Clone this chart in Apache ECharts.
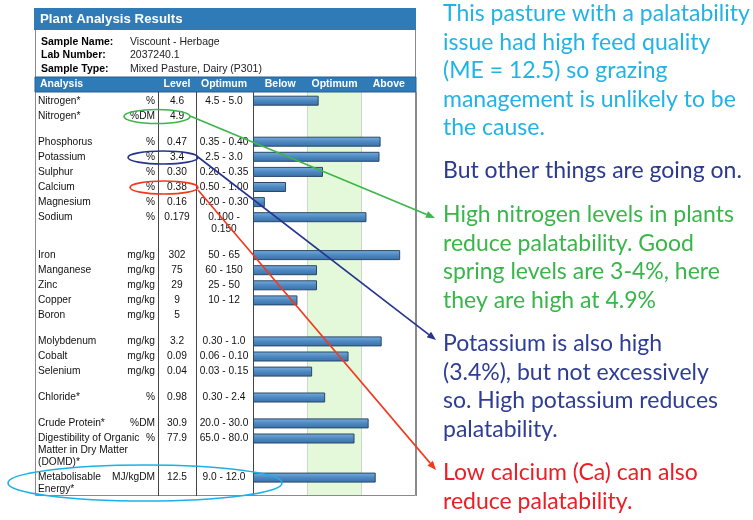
<!DOCTYPE html>
<html lang="en">
<head>
<meta charset="UTF-8">
<title>Plant Analysis Results</title>
<style>
  html, body { margin: 0; padding: 0; background: #fff; }
  #chart1 { width: 753px; height: 520px; }
</style>
</head>
<body>
<div id="chart1"></div>
<script src="https://cdn.jsdelivr.net/npm/echarts@6/dist/echarts.min.js"></script>
<script type="text/javascript">
// table rows
var analytes = ['Nitrogen*', 'Nitrogen*', 'Phosphorus', 'Potassium', 'Sulphur', 'Calcium', 'Magnesium', 'Sodium',
    'Iron', 'Manganese', 'Zinc', 'Copper', 'Boron', 'Molybdenum', 'Cobalt', 'Selenium', 'Chloride*',
    'Crude Protein*', 'Digestibility of Organic\nMatter in Dry Matter\n(DOMD)*', 'Metabolisable\nEnergy*'];
var units = ['%', '%DM', '%', '%', '%', '%', '%', '%', 'mg/kg', 'mg/kg', 'mg/kg', 'mg/kg', 'mg/kg',
    'mg/kg', 'mg/kg', 'mg/kg', '%', '%DM', '%', 'MJ/kgDM'];
var levels = ['4.6', '4.9', '0.47', '3.4', '0.30', '0.38', '0.16', '0.179', '302', '75', '29', '9', '5',
    '3.2', '0.09', '0.04', '0.98', '30.9', '77.9', '12.5'];
var optimums = ['4.5 - 5.0', '', '0.35 - 0.40', '2.5 - 3.0', '0.20 - 0.35', '0.50 - 1.00', '0.20 - 0.30',
    '0.100 -\n0.150', '50 - 65', '60 - 150', '25 - 50', '10 - 12', '', '0.30 - 1.0', '0.06 - 0.10',
    '0.03 - 0.15', '0.30 - 2.4', '20.0 - 30.0', '65.0 - 80.0', '9.0 - 12.0'];
// bar length: 0-1 below, 1-2 optimum, 2-3 above
var barScores = [1.19, null, 2.33, 2.31, 1.27, 0.59, 0.20, 2.07, 2.69, 1.16, 1.16, 0.80, null,
    2.35, 1.74, 1.07, 1.31, 2.11, 1.85, 2.24];
var groups = [0, 0, 1, 1, 1, 1, 1, 1, 2, 2, 2, 2, 2, 3, 3, 3, 4, 5, 5, 5];
var bandNames = ['Below', 'Optimum', 'Above'];

var sampleInfo = [['Sample Name:', 'Viscount - Herbage'], ['Lab Number:', '2037240.1'],
    ['Sample Type:', 'Mixed Pasture, Dairy (P301)']];

var noteCyan = 'This pasture with a palatability\nissue had high feed quality\n(ME = 12.5) so grazing\nmanagement is unlikely to be\nthe cause.';
var noteNavy = 'But other things are going on.';
var noteGreen = 'High nitrogen levels in plants\nreduce palatability. Good\nspring levels are 3-4%, here\nthey are high at 4.9%';
var noteBlue = 'Potassium is also high\n(3.4%), but not excessively\nso. High potassium reduces\npalatability.';
var noteRed = 'Low calcium (Ca) can also\nreduce palatability.';

// row offsets from the number of text lines and the group breaks
function lineCount(i) {
    return Math.max(analytes[i].split('\n').length, optimums[i].split('\n').length);
}
var rowPos = [];
var acc = 0;
for (var i = 0; i < analytes.length; i++) {
    if (i > 0) {
        acc += 15.1 + 12 * (lineCount(i - 1) - 1);
        if (groups[i] !== groups[i - 1]) acc += 10.8;
    }
    rowPos.push(acc);
}
var rows = analytes.map(function (n, i) {
    return [barScores[i] == null ? 0 : barScores[i], rowPos[i], i];
});

var tFont = '"Liberation Sans", Arial, sans-serif';
var nFont = 'Lato, "Open Sans", sans-serif';
var blue = '#2f7bb8';

var myChart1 = echarts.init(document.getElementById('chart1'));

function arrow(x1, y1, x2, y2, color) {
    var a = Math.atan2(y2 - y1, x2 - x1), L = 9, W = 3.6;
    var bx = x2 - L * Math.cos(a), by = y2 - L * Math.sin(a);
    return [
        {type: 'line', shape: {x1: x1, y1: y1, x2: bx, y2: by}, style: {stroke: color, lineWidth: 1.6}, z: 20},
        {type: 'polygon', shape: {points: [[x2, y2], [bx + W * Math.sin(a), by - W * Math.cos(a)],
            [bx - W * Math.sin(a), by + W * Math.cos(a)]]}, style: {fill: color}, z: 20}
    ];
}

var graphics = [
    {type: 'rect', shape: {x: 35.5, y: 29.5, width: 380, height: 466}, style: {fill: 'none', stroke: '#8a8a8a', lineWidth: 1}, z: 1},
    {type: 'rect', shape: {x: 34, y: 8, width: 382, height: 22}, style: {fill: blue}, z: 2},
    {type: 'text', x: 40, y: 19, style: {text: 'Plant Analysis Results', fill: '#fff', font: 'bold 13.3px ' + tFont, textVerticalAlign: 'middle'}, z: 3},
    {type: 'rect', shape: {x: 35, y: 77, width: 381, height: 15}, style: {fill: blue, stroke: '#2a5f8f', lineWidth: 1}, z: 2},
    {type: 'text', x: 40, y: 84.5, style: {text: 'Analysis', fill: '#fff', font: 'bold 10.5px ' + tFont, textVerticalAlign: 'middle'}, z: 3},
    {type: 'text', x: 177, y: 84.5, style: {text: 'Level', fill: '#fff', font: 'bold 10.5px ' + tFont, textAlign: 'center', textVerticalAlign: 'middle'}, z: 3},
    {type: 'text', x: 224, y: 84.5, style: {text: 'Optimum', fill: '#fff', font: 'bold 10.5px ' + tFont, textAlign: 'center', textVerticalAlign: 'middle'}, z: 3},
    {type: 'line', shape: {x1: 158.5, y1: 92, x2: 158.5, y2: 496}, style: {stroke: '#444', lineWidth: 1}, z: 3},
    {type: 'line', shape: {x1: 196.5, y1: 92, x2: 196.5, y2: 496}, style: {stroke: '#444', lineWidth: 1}, z: 3},
    {type: 'text', x: 443, y: 14 - 14.2, style: {text: noteCyan, fill: '#22b3e6', font: '23px ' + nFont, lineHeight: 28.4}, z: 10},
    {type: 'text', x: 443, y: 171 - 14.2, style: {text: noteNavy, fill: '#2b3990', font: '23px ' + nFont, lineHeight: 28.4}, z: 10},
    {type: 'text', x: 443, y: 215 - 14.2, style: {text: noteGreen, fill: '#39b54a', font: '23px ' + nFont, lineHeight: 28.4}, z: 10},
    {type: 'text', x: 443, y: 344 - 14.2, style: {text: noteBlue, fill: '#2e3d96', font: '23px ' + nFont, lineHeight: 28.4}, z: 10},
    {type: 'text', x: 443, y: 473 - 14.2, style: {text: noteRed, fill: '#ee1c24', font: '23px ' + nFont, lineHeight: 28.4}, z: 10},
    {type: 'ellipse', shape: {cx: 157, cy: 116.5, rx: 33, ry: 7}, style: {fill: 'none', stroke: '#3cb54a', lineWidth: 1.6}, z: 20},
    {type: 'ellipse', shape: {cx: 163, cy: 157.5, rx: 35, ry: 6.5}, style: {fill: 'none', stroke: '#25358f', lineWidth: 1.6}, z: 20},
    {type: 'ellipse', shape: {cx: 164, cy: 187.5, rx: 34, ry: 6.5}, style: {fill: 'none', stroke: '#f2391e', lineWidth: 1.6}, z: 20},
    {type: 'ellipse', shape: {cx: 145, cy: 483, rx: 137, ry: 18}, style: {fill: 'none', stroke: '#1cb0e8', lineWidth: 1.6}, z: 20}
];
sampleInfo.forEach(function (s, k) {
    graphics.push({type: 'text', x: 41, y: 42 + k * 13.5, style: {text: s[0], fill: '#000', font: 'bold 10.5px ' + tFont, textVerticalAlign: 'middle'}, z: 3});
    graphics.push({type: 'text', x: 130, y: 42 + k * 13.5, style: {text: s[1], fill: '#222', font: '10.5px ' + tFont, textVerticalAlign: 'middle'}, z: 3});
});
graphics = graphics.concat(arrow(190, 116, 435, 218, '#3cb54a'));
graphics = graphics.concat(arrow(198, 157, 436, 340, '#25358f'));
graphics = graphics.concat(arrow(198, 190, 436, 470, '#f2391e'));

myChart1.setOption({
    animation: false,
    backgroundColor: '#fff',
    grid: {left: 253, right: 337, top: 92, bottom: 24},
    xAxis: {
        type: 'value', min: 0, max: 3, interval: 1,
        position: 'top',
        axisLine: {show: false}, axisTick: {show: false},
        axisLabel: {show: false},
        splitLine: {show: true, lineStyle: {color: ['#444', '#cfd6cc', '#cfd6cc', '#8a8a8a'], width: 1}},
        splitArea: {show: true, areaStyle: {color: ['rgba(0,0,0,0)', '#e4f9da', 'rgba(0,0,0,0)']}}
    },
    yAxis: {
        type: 'value', inverse: true, min: -8.7, max: 395.3,
        show: false
    },
    graphic: graphics,
    series: [
        {
            type: 'custom',
            name: 'header',
            data: [[0.5, 0], [1.5, 1], [2.5, 2]],
            clip: false,
            renderItem: function (params, api) {
                var p = api.coord([api.value(0), 0]);
                return {type: 'text', x: p[0], y: 84.5, z2: 5,
                    style: {text: bandNames[api.value(1)], fill: '#fff', font: 'bold 10.5px ' + tFont, align: 'center', verticalAlign: 'middle'}};
            }
        },
        {
            type: 'custom',
            name: 'Plant analysis',
            data: rows,
            clip: false,
            renderItem: function (params, api) {
                var i = api.value(2);
                var p0 = api.coord([0, api.value(1)]);
                var p1 = api.coord([api.value(0), api.value(1)]);
                var yc = p0[1];
                var st = {fill: '#111', font: '10.2px ' + tFont, lineHeight: 12, verticalAlign: 'top'};
                var kids = [
                    {type: 'text', x: 38, y: yc - 6, style: Object.assign({text: analytes[i], align: 'left'}, st)},
                    {type: 'text', x: 155, y: yc - 6, style: Object.assign({text: units[i], align: 'right'}, st)},
                    {type: 'text', x: 177, y: yc - 6, style: Object.assign({text: levels[i], align: 'center'}, st)},
                    {type: 'text', x: 224, y: yc - 6, style: Object.assign({text: optimums[i], align: 'center', lineHeight: 13}, st)}
                ];
                if (barScores[i] != null) {
                    kids.push({
                        type: 'rect',
                        shape: {x: p0[0] + 0.5, y: yc - 4.5, width: p1[0] - p0[0], height: 9},
                        style: {
                            fill: new echarts.graphic.LinearGradient(0, 0, 0, 1, [
                                {offset: 0, color: '#7aaedb'},
                                {offset: 0.5, color: '#4d88c2'},
                                {offset: 1, color: '#3a6fa6'}
                            ]),
                            stroke: '#2b4866', lineWidth: 1
                        }
                    });
                }
                return {type: 'group', children: kids};
            }
        }
    ]
});
</script>
</body>
</html>
